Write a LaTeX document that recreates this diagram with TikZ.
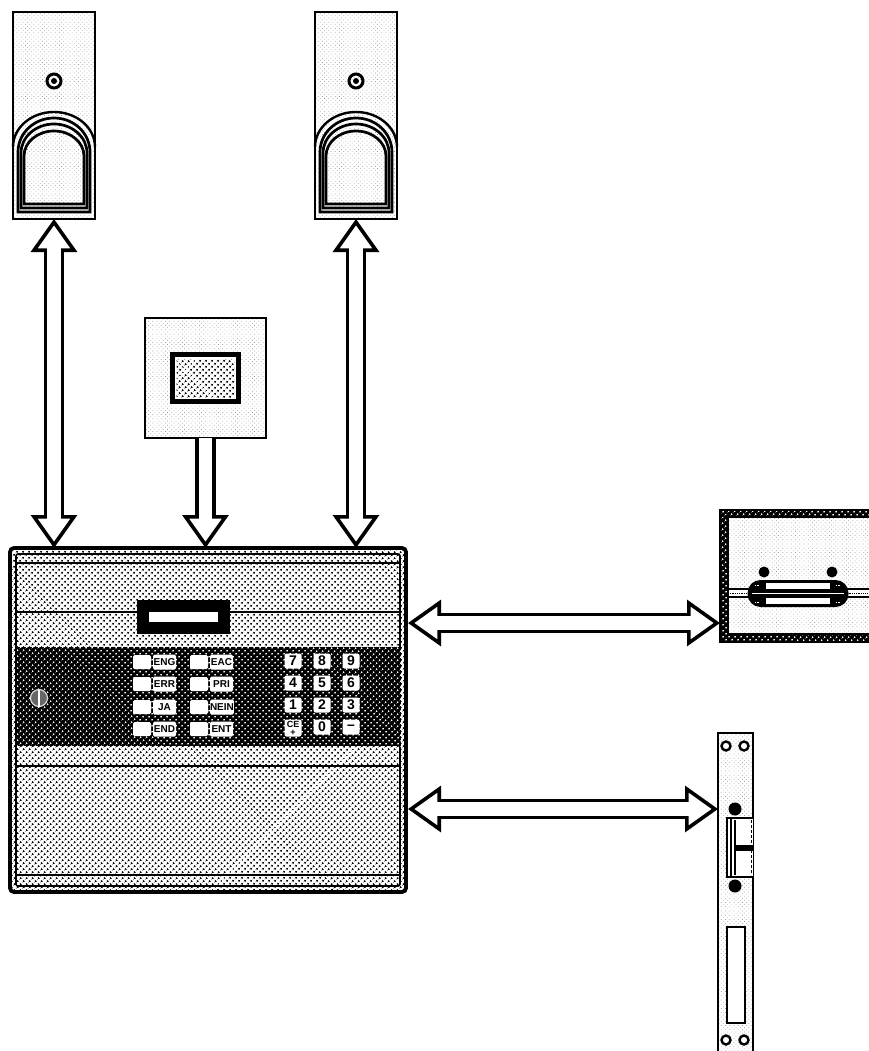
\documentclass[tikz,border=0pt]{standalone}
\usepackage{fontspec}
\setsansfont{Liberation Sans}
\usepackage{tikz}
\usetikzlibrary{positioning,arrows.meta,patterns.meta}

\begin{document}
\begin{tikzpicture}[
        x=1pt, y=-1pt,
        every node/.style={inner sep=0pt, outer sep=0pt},
        lightdots/.style={pattern={Dots[distance=3pt, angle=45, radius=0.5pt]}, pattern color=black!40},
        meddots/.style={pattern={Dots[distance=4pt, angle=45, radius=1.2pt]}, pattern color=black},
        darkdots/.style={preaction={fill=black}, pattern={Dots[distance=4pt, angle=45, radius=1.05pt]}, pattern color=white},
        casing/.style={draw, line width=2.8pt, lightdots, anchor=north west},
        arch/.style={draw, line width=2.7pt},
        rule/.style={draw, line width=1.9pt},
        headtip/.tip={Triangle[open, fill=white, length=33pt, width=46pt, line width=3.6pt]},
        bus/.style={line width=3.6pt, double=white, double distance=13.5pt, -headtip,
            postaction={draw=white, line width=13.5pt, shorten >=24pt, shorten <=3pt, -}},
        duplex/.style={line width=3.6pt, double=white, double distance=13.5pt, headtip-headtip,
            postaction={draw=white, line width=13.5pt, shorten >=24pt, shorten <=24pt, -}},
        lamp/.style={fill=white, rounded corners=1.5pt, minimum width=18pt, minimum height=14pt},
        tagkey/.style={fill=white, rounded corners=1.5pt, minimum width=23pt, minimum height=15pt, font=\sffamily\bfseries\fontsize{10}{10}\selectfont},
        numkey/.style={fill=white, rounded corners=2pt, minimum width=17pt, minimum height=15pt, font=\sffamily\bfseries\fontsize{14}{14}\selectfont},
        screw/.style={circle, fill=black, minimum size=13pt},
        hole/.style={circle, draw, fill=white, line width=2.4pt, minimum size=9pt}
    ]
        \useasboundingbox (0,0) rectangle (868,1051);

        % Readers
        \node[casing, minimum width=82pt, minimum height=207pt] (readerA) at (13,12) {};
        \node[casing, minimum width=82pt, minimum height=207pt, right=220pt of readerA] (readerB) {};
        \begin{scope}[shift={(readerA.north west)}]
            \draw[line width=2.4pt] (0,135) arc[start angle=180, end angle=360, x radius=41, y radius=35];
            \draw[arch] (5,200) -- (5,140) arc[start angle=180, end angle=360, x radius=36, y radius=34] -- (77,200) -- cycle;
            \draw[arch] (8,196) -- (8,141) arc[start angle=180, end angle=360, x radius=33, y radius=29] -- (74,196) -- cycle;
            \draw[arch] (11,192) -- (11,144) arc[start angle=180, end angle=360, x radius=30, y radius=25] -- (71,192) -- cycle;
            \draw[line width=3pt] (41,69) circle[radius=7];
            \fill (41,69) circle[radius=3];
        \end{scope}
        \begin{scope}[shift={(readerB.north west)}]
            \draw[line width=2.4pt] (0,135) arc[start angle=180, end angle=360, x radius=41, y radius=35];
            \draw[arch] (5,200) -- (5,140) arc[start angle=180, end angle=360, x radius=36, y radius=34] -- (77,200) -- cycle;
            \draw[arch] (8,196) -- (8,141) arc[start angle=180, end angle=360, x radius=33, y radius=29] -- (74,196) -- cycle;
            \draw[arch] (11,192) -- (11,144) arc[start angle=180, end angle=360, x radius=30, y radius=25] -- (71,192) -- cycle;
            \draw[line width=3pt] (41,69) circle[radius=7];
            \fill (41,69) circle[radius=3];
        \end{scope}

        % Small display
        \node[casing, minimum width=121pt, minimum height=120pt] (panel) at (145,318) {};
        \node[draw, line width=4.6pt, fill=white, minimum width=66pt, minimum height=47pt] (window) at (panel.center) {};
        \node[meddots, minimum width=58pt, minimum height=38pt] (windowGlass) at (window.center) {};

        % Control unit
        \node[draw, line width=3.8pt, rounded corners=4pt, meddots, anchor=north west, minimum width=396pt, minimum height=344pt] (unit) at (10,548) {};
        \node[draw, line width=1.6pt, rounded corners=2pt, minimum width=384pt, minimum height=332pt] (unitInner) at (unit.center) {};
        \node[darkdots, anchor=north west, minimum width=384pt, minimum height=99pt] (keyfield) at (17,647) {};
        \draw[rule] (17,563) -- (401,563);
        \draw[rule] (17,612) -- (401,612);
        \draw[rule] (17,766) -- (401,766);
        \draw[rule] (17,875) -- (401,875);
        \node[fill=black, anchor=north west, minimum width=93pt, minimum height=34pt] (lcd) at (137,600) {};
        \node[fill=white, minimum width=69pt, minimum height=10pt] (lcdGlass) at (lcd.center) {};
        \node[circle, draw=white!85!black, fill=black!60, line width=1.2pt, minimum size=17pt] (power) at (39,698) {};
        \draw[white, line width=1.2pt] (power.north) -- (power.south);

        % Function keys
        \node[lamp] (lampEng) at (142,662) {};
        \node[tagkey, right=2pt of lampEng] (tagEng) {ENG};
        \node[lamp, below=8pt of lampEng] (lampErr) {};
        \node[tagkey, right=2pt of lampErr] (tagErr) {ERR};
        \node[lamp, below=9pt of lampErr] (lampJa) {};
        \node[tagkey, right=2pt of lampJa] (tagJa) {JA};
        \node[lamp, below=8pt of lampJa] (lampEnd) {};
        \node[tagkey, right=2pt of lampEnd] (tagEnd) {END};
        \node[lamp, right=14pt of tagEng] (lampEac) {};
        \node[tagkey, right=2pt of lampEac] (tagEac) {EAC};
        \node[lamp, right=14pt of tagErr] (lampPri) {};
        \node[tagkey, right=2pt of lampPri] (tagPri) {PRI};
        \node[lamp, right=14pt of tagJa] (lampNein) {};
        \node[tagkey, right=2pt of lampNein] (tagNein) {NEIN};
        \node[lamp, right=14pt of tagEnd] (lampEnt) {};
        \node[tagkey, right=2pt of lampEnt] (tagEnt) {ENT};

        % Number keys
        \node[numkey] (num7) at (293,661) {7};
        \node[numkey, right=12pt of num7] (num8) {8};
        \node[numkey, right=12pt of num8] (num9) {9};
        \node[numkey, below=7pt of num7] (num4) {4};
        \node[numkey, right=12pt of num4] (num5) {5};
        \node[numkey, right=12pt of num5] (num6) {6};
        \node[numkey, below=7pt of num4] (num1) {1};
        \node[numkey, right=12pt of num1] (num2) {2};
        \node[numkey, right=12pt of num2] (num3) {3};
        \node[numkey, below=7pt of num1, minimum height=17pt, align=center, font=\sffamily\bfseries\fontsize{9}{8}\selectfont] (numCe) {CE\\+};
        \node[numkey, below=7pt of num2] (num0) {0};
        \node[numkey, below=7pt of num3] (numMinus) {--};

        % Door contact
        \node[darkdots, draw, line width=2.4pt, anchor=north west, minimum width=160pt, minimum height=132pt] (contact) at (720,510) {};
        \node[draw, line width=2.2pt, lightdots, preaction={fill=white}, anchor=north west, minimum width=150pt, minimum height=117pt] (contactField) at (728,517) {};
        \draw[line width=2.6pt, fill=white] (728,589) rectangle (872,597);
        \draw[densely dotted, line width=0.8pt] (728,593) -- (868,593);
        \node[fill=black, rounded corners=13pt, minimum width=101pt, minimum height=27pt] (handle) at (798,593.5) {};
        \fill[white] (766,583) rectangle (830,589);
        \fill[white] (766,598) rectangle (830,604);
        \draw[white, line width=0.7pt] (752,593.5) -- (844,593.5);
        \draw[white, line width=0.7pt, densely dotted] (755,585) -- (760,585);
        \draw[white, line width=0.7pt, densely dotted] (755,602) -- (760,602);
        \draw[white, line width=0.7pt, densely dotted] (836,585) -- (841,585);
        \draw[white, line width=0.7pt, densely dotted] (836,602) -- (841,602);
        \node[screw, minimum size=11pt] (screwL) at (764,572) {};
        \node[screw, minimum size=11pt] (screwR) at (832,572) {};

        % Strike plate
        \node[draw, line width=2.9pt, lightdots, preaction={fill=white}, anchor=north west, minimum width=35pt, minimum height=330pt] (strike) at (718,733) {};
        \node[hole] (holeA) at (726,746) {};
        \node[hole] (holeB) at (744,746) {};
        \node[hole] (holeC) at (726,1040) {};
        \node[hole] (holeD) at (744,1040) {};
        \node[screw] (screwA) at (735,809) {};
        \node[screw] (screwB) at (735,886) {};
        \draw[line width=2.6pt, fill=white] (753,818) -- (727,818) -- (727,877) -- (753,877);
        \draw[line width=1.2pt] (731,818) -- (731,877);
        \draw[line width=1.2pt] (735,820) -- (735,875);
        \fill (735,845) rectangle (753,851);
        \draw[densely dashed, line width=0.6pt] (751,820) -- (751,875);
        \node[draw, line width=2.6pt, fill=white, anchor=north west, minimum width=18pt, minimum height=96pt] (slot) at (727,927) {};

        % Connections
        \coordinate (portA) at (408,623);
        \coordinate (portB) at (408,809);
        \draw[duplex] (readerA.south) -- (readerA.south |- unit.north);
        \draw[duplex] (readerB.south) -- (readerB.south |- unit.north);
        \draw[bus] (panel.south) -- (panel.south |- unit.north);
        \draw[duplex] (portA) -- (portA -| contact.west);
        \draw[duplex] (portB) -- (portB -| strike.west);
\end{tikzpicture}
\end{document}
